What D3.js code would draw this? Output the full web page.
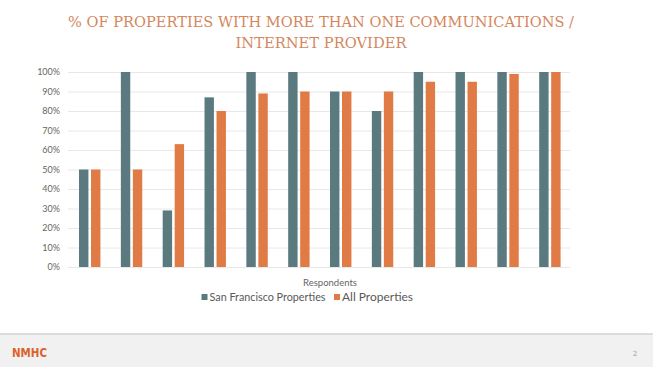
<!DOCTYPE html>
<html>
<head>
<meta charset="utf-8">
<script src="https://cdn.jsdelivr.net/npm/d3@7"></script>
<style>
  body { margin: 0; background: #fff; }
  svg { display: block; }
</style>
</head>
<body>
<div id="chart"></div>
<script>
const W = 653, H = 367;
const margin = { top: 72, right: 83, bottom: 100, left: 68 };
const w = W - margin.left - margin.right;
const h = 267 - margin.top;

const groups = ["1","2","3","4","5","6","7","8","9","10","11","12"];
const sfValues = [50, 100, 29, 87, 100, 100, 90, 80, 100, 100, 100, 100];
const allValues = [50, 50, 63, 80, 89, 90, 90, 90, 95, 95, 99, 100];
const seriesNames = ["San Francisco Properties", "All Properties"];
const seriesColors = ["#5a7a80", "#e07b45"];
const yTicks = [0, 10, 20, 30, 40, 50, 60, 70, 80, 90, 100];
const titleLines = ["% OF PROPERTIES WITH MORE THAN ONE COMMUNICATIONS /", "INTERNET PROVIDER"];

const svg = d3.select("#chart").append("svg")
  .attr("width", W)
  .attr("height", H);

// title
svg.selectAll("text.title")
  .data(titleLines)
  .enter()
  .append("text")
  .attr("class", "title")
  .attr("x", 321)
  .attr("y", (d, i) => 26.5 + i * 21.5)
  .attr("text-anchor", "middle")
  .attr("textLength", (d, i) => i === 0 ? 506 : 171)
  .attr("lengthAdjust", "spacingAndGlyphs")
  .style("font-family", "'DejaVu Serif', serif")
  .style("font-size", "15px")
  .style("fill", "#d4875d")
  .text(d => d);

const g = svg.append("g")
  .attr("transform", "translate(" + margin.left + "," + margin.top + ")");

const x0 = d3.scaleBand().domain(groups).range([0, w]).paddingInner(0).paddingOuter(0);
const y = d3.scaleLinear().domain([0, 100]).range([h, 0]);

// gridlines + tick labels
const yAxis = d3.axisLeft(y)
  .tickValues(yTicks)
  .tickSize(-w)
  .tickPadding(8)
  .tickFormat(d => d + "%");

g.append("g")
  .attr("class", "y axis")
  .call(yAxis)
  .call(s => s.select(".domain").remove())
  .call(s => s.selectAll("line").attr("stroke", "#e2e2e2").attr("stroke-width", 0.8))
  .call(s => s.selectAll("text")
    .style("font-family", "Lato, sans-serif")
    .style("font-size", "9px")
    .style("fill", "#666"));

const barW = 9.4, gap = 2.6;
const pairs = groups.map((k, i) => ({ key: k, values: [sfValues[i], allValues[i]] }));

const grp = g.selectAll("g.grp")
  .data(pairs)
  .enter()
  .append("g")
  .attr("class", "grp")
  .attr("transform", d => "translate(" + (x0(d.key) + x0.bandwidth() / 2 + 0.8) + ",0)");

grp.selectAll("rect")
  .data(d => d.values)
  .enter()
  .append("rect")
  .attr("x", (d, j) => j === 0 ? -gap / 2 - barW : gap / 2)
  .attr("y", d => y(d))
  .attr("width", barW)
  .attr("height", d => h - y(d))
  .attr("fill", (d, j) => seriesColors[j]);

// axis title
svg.append("text")
  .attr("x", 330)
  .attr("y", 286)
  .attr("text-anchor", "middle")
  .style("font-family", "Lato, sans-serif")
  .style("font-size", "9.5px")
  .style("fill", "#666")
  .text("Respondents");

// legend
const legendX = [201.5, 334];
const legendLen = [116, 71];
const legend = svg.selectAll("g.legend")
  .data(seriesNames)
  .enter()
  .append("g")
  .attr("class", "legend")
  .attr("transform", (d, i) => "translate(" + legendX[i] + ",297)");

legend.append("rect")
  .attr("x", 0)
  .attr("y", -3)
  .attr("width", 6)
  .attr("height", 6)
  .attr("fill", (d, i) => seriesColors[i]);

legend.append("text")
  .attr("x", 8)
  .attr("y", 3.8)
  .attr("textLength", (d, i) => legendLen[i])
  .attr("lengthAdjust", "spacingAndGlyphs")
  .style("font-family", "Lato, sans-serif")
  .style("font-size", "10.5px")
  .style("fill", "#595959")
  .text(d => d);

// footer band
svg.append("rect")
  .attr("x", 0)
  .attr("y", 333)
  .attr("width", W)
  .attr("height", H - 333)
  .attr("fill", "#dcdcdc");
svg.append("rect")
  .attr("x", 0)
  .attr("y", 335)
  .attr("width", W)
  .attr("height", H - 335)
  .attr("fill", "#f1f1f1");

svg.append("text")
  .attr("x", 12)
  .attr("y", 357)
  .attr("textLength", 35)
  .attr("lengthAdjust", "spacingAndGlyphs")
  .style("font-family", "'DejaVu Sans Condensed', 'DejaVu Sans', sans-serif")
  .style("font-weight", "bold")
  .style("font-size", "13px")
  .style("fill", "#d9622b")
  .text("NMHC");

svg.append("text")
  .attr("x", 635)
  .attr("y", 355.5)
  .attr("text-anchor", "middle")
  .style("font-family", "'DejaVu Serif', serif")
  .style("font-size", "7px")
  .style("fill", "#999")
  .text("2");
</script>
</body>
</html>
